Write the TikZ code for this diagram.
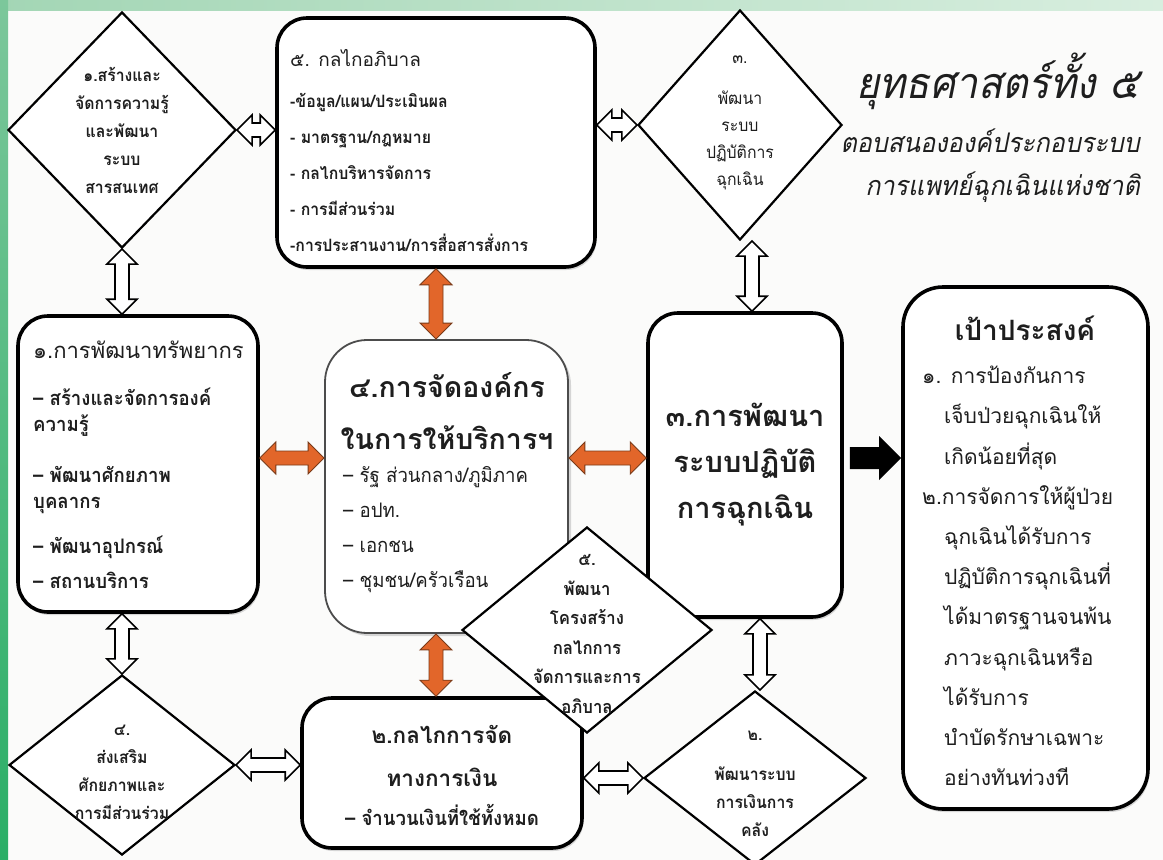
\documentclass[tikz,border=0pt]{standalone}
\usepackage{fontspec}
\setmainfont{Loma}[Script=Thai]
\newfontfamily\condfont{Loma}[Script=Thai,FakeStretch=0.93]
\newfontfamily\slantfont{Loma}[Script=Thai,FakeSlant=0.2,FakeStretch=0.93]
\usetikzlibrary{calc,shapes.geometric,shadows}

\definecolor{ink}{HTML}{1E1E1E}
\definecolor{linkorange}{HTML}{E2662A}
\definecolor{linkedge}{HTML}{7A3A18}
\definecolor{paper}{HTML}{FBFBFA}
\definecolor{stripdark}{HTML}{2AAE66}
\definecolor{striplight}{HTML}{7CC79B}
\definecolor{bandleft}{HTML}{A3D6B5}
\definecolor{bandright}{HTML}{D8EEDF}

\newcommand\fsz[2]{\fontsize{#1}{#2}\selectfont}
% block-arrow geometry: head length, head half-width, shaft half-width
\newcommand\ahl{15pt}
\newcommand\ahw{15pt}
\newcommand\asw{7pt}
% horizontal double block arrow: style, y reference, left end, right end
\newcommand\hdouble[4]{\path[#1] let \p1=(#3), \p2=(#4), \p3=(#2) in
  (\x1,\y3) -- (\x1+\ahl,\y3+\ahw) -- (\x1+\ahl,\y3+\asw) -- (\x2-\ahl,\y3+\asw)
  -- (\x2-\ahl,\y3+\ahw) -- (\x2,\y3) -- (\x2-\ahl,\y3-\ahw) -- (\x2-\ahl,\y3-\asw)
  -- (\x1+\ahl,\y3-\asw) -- (\x1+\ahl,\y3-\ahw) -- cycle;}
% vertical double block arrow: style, x reference, upper end, lower end
\newcommand\vdouble[4]{\path[#1] let \p1=(#3), \p2=(#4), \p3=(#2) in
  (\x3,\y1) -- (\x3+\ahw,\y1-\ahl) -- (\x3+\asw,\y1-\ahl) -- (\x3+\asw,\y2+\ahl)
  -- (\x3+\ahw,\y2+\ahl) -- (\x3,\y2) -- (\x3-\ahw,\y2+\ahl) -- (\x3-\asw,\y2+\ahl)
  -- (\x3-\asw,\y1-\ahl) -- (\x3-\ahw,\y1-\ahl) -- cycle;}
% single right-pointing block arrow: style, y reference, tail, tip
\newcommand\hsingle[4]{\path[#1] let \p1=(#3), \p2=(#4), \p3=(#2) in
  (\x1+6pt,\y3+11pt) -- (\x2-22pt,\y3+11pt) -- (\x2-22pt,\y3+22pt) -- (\x2,\y3)
  -- (\x2-22pt,\y3-22pt) -- (\x2-22pt,\y3-11pt) -- (\x1+6pt,\y3-11pt) -- cycle;}

\begin{document}
\begin{tikzpicture}[x=1pt, y=-1pt,
  box/.style={draw=black, line width=3.6pt, rounded corners=30pt, fill=white, inner sep=0pt,
    drop shadow={shadow xshift=1.5pt, shadow yshift=-3pt, opacity=0.3}},
  softbox/.style={draw=black!70, line width=1.8pt, rounded corners=42pt, fill=white, inner sep=0pt,
    drop shadow={shadow xshift=3pt, shadow yshift=-3pt, opacity=0.3}},
  gem/.style={diamond, draw=black, line width=2.2pt, fill=white, inner sep=0pt},
  wlink/.style={draw=black, line width=1.6pt, fill=white, line join=miter},
  olink/.style={draw=linkedge, line width=0.9pt, fill=linkorange},
  blink/.style={fill=black},
  txt/.style={text=ink, inner sep=0pt},
  dtxt/.style={txt, align=center, font=\condfont\bfseries\fsz{17}{28}},
]
\useasboundingbox (0,0) rectangle (1163,860);

% paper and green frame
\fill[paper] (0,0) rectangle (1163,860);
\shade[left color=bandleft, right color=bandright] (0,0) rectangle (1163,10);
\shade[top color=striplight, bottom color=stripdark] (0,0) rectangle (8,860);

% boxes
\node[box, minimum width=318pt, minimum height=249pt] (t5) at (436,142.5) {};
\node[box, minimum width=240pt, minimum height=296pt] (b1) at (138,464) {};
\node[softbox, minimum width=243pt, minimum height=293pt] (b4) at (446.5,486.5) {};
\node[box, minimum width=194pt, minimum height=304pt] (b3) at (745,465) {};
\node[box, rounded corners=40pt, minimum width=245pt, minimum height=522pt] (goal) at (1025.5,548) {};
\node[box, minimum width=280pt, minimum height=150pt] (b2) at (442,773) {};

% strategy diamonds
\node[gem, minimum width=228pt, minimum height=236pt] (d1) at (122,130) {};
\node[gem, minimum width=204pt, minimum height=230pt] (d3) at (740,125) {};
\node[gem, minimum width=226pt, minimum height=180pt] (d4) at (122,765) {};
\node[gem, minimum width=222pt, minimum height=174pt] (d2) at (755,778) {};

% white links
\hdouble{wlink}{d1.east}{d1.east}{t5.west}
\hdouble{wlink}{d3.west}{t5.east}{d3.west}
\vdouble{wlink}{d1.south}{d1.south}{b1.north}
\vdouble{wlink}{d4.north}{b1.south}{d4.north}
\hdouble{wlink}{d4.east}{d4.east}{b2.west}
\hdouble{wlink}{d2.west}{b2.east}{d2.west}
\vdouble{wlink}{$(b3.north)+(7,0)$}{d3.south}{b3.north}
\vdouble{wlink}{$(b3.south)+(15,0)$}{b3.south}{d2.north}

% orange links
\renewcommand\ahl{16pt}\renewcommand\ahw{16pt}
\vdouble{olink}{t5.south}{t5.south}{b4.north}
\hdouble{olink}{$(b1.east)+(0,-6)$}{b1.east}{b4.west}
\hdouble{olink}{$(b3.west)+(0,-7)$}{b4.east}{b3.west}
\vdouble{olink}{t5.south}{b4.south}{b2.north}

% towards the goals
\hsingle{blink}{$(b3.east)+(0,-7)$}{b3.east}{goal.west}

% central diamond lies over its neighbours
\node[gem, minimum width=250pt, minimum height=206pt] (d5) at (587,630) {};

% title
\node[txt, anchor=base west, font=\slantfont\fsz{43}{48}] (title) at (856,98) {ยุทธศาสตร์ทั้ง ๕};
\node[txt, anchor=base east, font=\slantfont\fsz{27}{44}] (sub1) at (1140,152) {ตอบสนององค์ประกอบระบบ};
\node[txt, anchor=base east, font=\slantfont\fsz{27}{44}] (sub2) at (1140,195) {การแพทย์ฉุกเฉินแห่งชาติ};

% diamond texts
\node[dtxt] (d1t) at (d1) {๑.สร้างและ\\จัดการความรู้\\และพัฒนา\\ระบบ\\สารสนเทศ};
\node[dtxt, font=\condfont\fsz{17}{27}] (d3t) at (740,123) {๓.\\[14pt]พัฒนา\\ระบบ\\ปฏิบัติการ\\ฉุกเฉิน};
\node[dtxt] (d4t) at (122,772) {๔.\\ส่งเสริม\\ศักยภาพและ\\การมีส่วนร่วม};
\node[dtxt] (d2t) at (755,784) {๒.\\[12pt]พัฒนาระบบ\\การเงินการ\\คลัง};
\node[dtxt, font=\condfont\bfseries\fsz{18}{29.5}] (d5t) at (587,634) {๕.\\พัฒนา\\โครงสร้าง\\กลไกการ\\จัดการและการ\\อภิบาล};

% governance box
\node[txt, anchor=west, font=\fsz{19}{24}] (t5h) at (290,58) {๕. กลไกอภิบาล};
\node[txt, anchor=west, align=left, font=\condfont\bfseries\fsz{17}{36}] (t5i) at (290,172)
  {-ข้อมูล/แผน/ประเมินผล\\- มาตรฐาน/กฎหมาย\\- กลไกบริหารจัดการ\\- การมีส่วนร่วม\\-การประสานงาน/การสื่อสารสั่งการ};

% resources box
\node[txt, anchor=west, font=\fsz{22}{24}] (b1h) at (33,350) {๑.การพัฒนาทรัพยากร};
\node[txt, anchor=west, align=left, font=\condfont\bfseries\fsz{20}{26}] (b1i) at (33,488)
  {– สร้างและจัดการองค์\\ความรู้\\[25pt]– พัฒนาศักยภาพ\\บุคลากร\\[19pt]– พัฒนาอุปกรณ์\\[9pt]– สถานบริการ};

% service organisation box
\node[txt, align=center, font=\bfseries\fsz{28.5}{52}] (b4h) at (447,411) {๔.การจัดองค์กร\\ในการให้บริการฯ};
\node[txt, anchor=west, align=left, font=\condfont\fsz{20}{35}] (b4i) at (343,530)
  {– รัฐ ส่วนกลาง/ภูมิภาค\\– อปท.\\– เอกชน\\– ชุมชน/ครัวเรือน};

% emergency operations box
\node[txt, align=center, font=\bfseries\fsz{29}{46}] (b3t) at (b3) {๓.การพัฒนา\\ระบบปฏิบัติ\\การฉุกเฉิน};

% finance box
\node[txt, align=center, font=\bfseries\fsz{22.5}{43}] (b2h) at (442,756) {๒.กลไกการจัด\\ทางการเงิน};
\node[txt, font=\condfont\bfseries\fsz{20}{22}] (b2i) at (442,815) {– จำนวนเงินที่ใช้ทั้งหมด};

% goals box
\node[txt, font=\bfseries\fsz{28}{30}] (goalh) at (1025,328) {เป้าประสงค์};
\node[txt, anchor=west, align=left, font=\fsz{21}{40.2}] (goali) at (922,576)
  {๑. การป้องกันการ\\\hspace*{22pt}เจ็บป่วยฉุกเฉินให้\\\hspace*{22pt}เกิดน้อยที่สุด\\๒.การจัดการให้ผู้ป่วย\\\hspace*{22pt}ฉุกเฉินได้รับการ\\\hspace*{22pt}ปฏิบัติการฉุกเฉินที่\\\hspace*{22pt}ได้มาตรฐานจนพ้น\\\hspace*{22pt}ภาวะฉุกเฉินหรือ\\\hspace*{22pt}ได้รับการ\\\hspace*{22pt}บำบัดรักษาเฉพาะ\\\hspace*{22pt}อย่างทันท่วงที};
\end{tikzpicture}
\end{document}
